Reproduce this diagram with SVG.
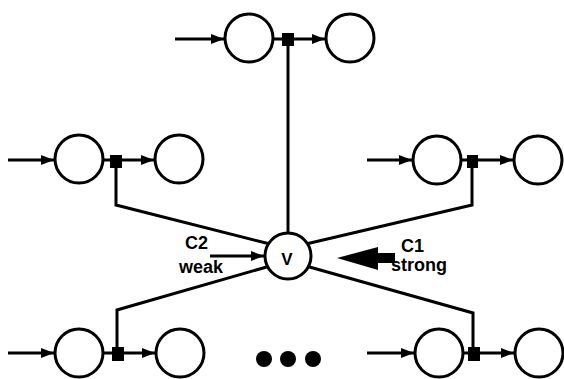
<svg xmlns="http://www.w3.org/2000/svg" width="564" height="379" viewBox="0 0 564 379">
  <style>
    .cell { fill: #fff; stroke: #000; stroke-width: 3; }
    .wire { fill: none; stroke: #000; stroke-width: 3; }
    .feed { fill: none; stroke: #000; stroke-width: 3; marker-end: url(#head); }
    .junction { fill: #000; }
    .label { font-family: "Liberation Sans", Arial, sans-serif; font-weight: bold; font-size: 18px; fill: #000; }
    .cell-name { font-size: 17px; }
  </style>
  <defs>
    <marker id="head" viewBox="0 0 13 10" refX="13" refY="5" markerWidth="13" markerHeight="10" markerUnits="userSpaceOnUse" orient="auto">
      <path d="M0,0 L13,5 L0,10 Z" fill="#000"/>
    </marker>
  </defs>

  <!-- lines from each synapse junction to the modulating cell V -->
  <g id="connectors">
    <polyline class="wire" points="288,40 288,240"/>
    <polyline class="wire" points="116,160 116,205 270,244"/>
    <polyline class="wire" points="472,160 472,205 306,244"/>
    <polyline class="wire" points="117,353 117,310 270,266"/>
    <polyline class="wire" points="473,353 473,313 306,266"/>
  </g>

  <!-- synapse units: input arrow, pre cell, junction, post cell -->
  <g id="unit-top">
    <line class="feed" x1="175" y1="39" x2="224" y2="39"/>
    <line class="wire" x1="272" y1="39" x2="288" y2="39"/>
    <line class="feed" x1="288" y1="39" x2="325" y2="39"/>
    <circle class="cell" cx="249" cy="38" r="24"/>
    <circle class="cell" cx="350" cy="38" r="24"/>
    <rect class="junction" x="282" y="33" width="12" height="13"/>
  </g>

  <g id="unit-left">
    <line class="feed" x1="8" y1="160" x2="54" y2="160"/>
    <line class="wire" x1="102" y1="160" x2="116" y2="160"/>
    <line class="feed" x1="116" y1="160" x2="154" y2="160"/>
    <circle class="cell" cx="79" cy="159" r="24"/>
    <circle class="cell" cx="179" cy="159" r="24"/>
    <rect class="junction" x="110" y="155" width="12" height="13"/>
  </g>

  <g id="unit-right">
    <line class="feed" x1="367" y1="160" x2="412" y2="160"/>
    <line class="wire" x1="460" y1="160" x2="472" y2="160"/>
    <line class="feed" x1="472" y1="160" x2="513" y2="160"/>
    <circle class="cell" cx="437" cy="160" r="24"/>
    <circle class="cell" cx="538" cy="160" r="24"/>
    <rect class="junction" x="467" y="155" width="11" height="13"/>
  </g>

  <g id="unit-bottom-left">
    <line class="feed" x1="8" y1="353" x2="54" y2="353"/>
    <line class="wire" x1="102" y1="353" x2="118" y2="353"/>
    <line class="feed" x1="118" y1="353" x2="155" y2="353"/>
    <circle class="cell" cx="79" cy="353" r="24"/>
    <circle class="cell" cx="180" cy="353" r="24"/>
    <rect class="junction" x="112" y="347" width="12" height="14"/>
  </g>

  <g id="unit-bottom-right">
    <line class="feed" x1="367" y1="353" x2="414" y2="353"/>
    <line class="wire" x1="462" y1="353" x2="474" y2="353"/>
    <line class="feed" x1="474" y1="353" x2="514" y2="353"/>
    <circle class="cell" cx="439" cy="353" r="24"/>
    <circle class="cell" cx="539" cy="353" r="24"/>
    <rect class="junction" x="468" y="347" width="12" height="14"/>
  </g>

  <!-- ellipsis: more units -->
  <g id="more">
    <circle cx="264" cy="359" r="8"/>
    <circle cx="288" cy="359" r="8"/>
    <circle cx="313" cy="359" r="8"/>
  </g>

  <!-- modulating cell -->
  <g id="node-v">
    <circle class="cell" cx="288" cy="256" r="23"/>
    <text class="label cell-name" x="287" y="265" text-anchor="middle">V</text>
  </g>

  <!-- weak input C2 -->
  <g id="input-c2">
    <line class="feed" x1="210" y1="256" x2="264" y2="256"/>
    <text class="label" x="185" y="249">C2</text>
    <text class="label" x="179" y="273">weak</text>
  </g>

  <!-- strong input C1 -->
  <g id="input-c1">
    <path d="M395,253 L378,253 L378,247 L337,258 L378,270 L378,263 L395,263 Z" fill="#000"/>
    <text class="label" x="401" y="252">C1</text>
    <text class="label" x="391" y="271">strong</text>
  </g>
</svg>
